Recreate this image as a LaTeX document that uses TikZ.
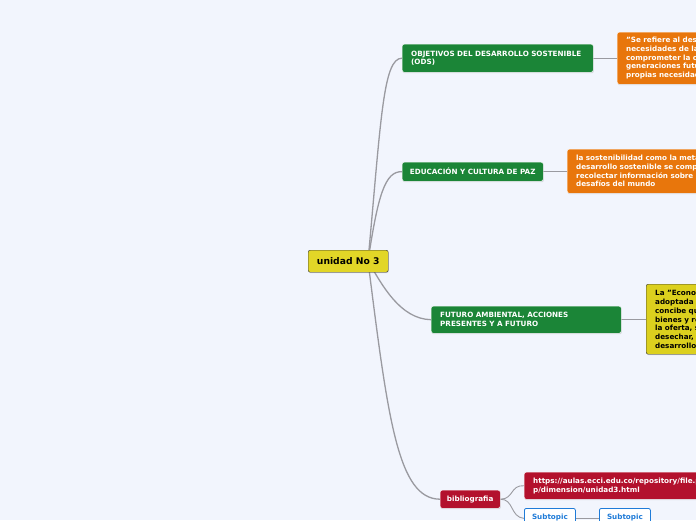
\documentclass[tikz,border=0pt]{standalone}
\usepackage{fontspec}
\setmainfont{DejaVu Sans}
\usetikzlibrary{shadows}
\definecolor{bgc}{HTML}{F2F5FD}
\definecolor{gr}{HTML}{1B8537}
\definecolor{orc}{HTML}{E8760C}
\definecolor{yel}{HTML}{E2D627}
\definecolor{yel2}{HTML}{DCD01E}
\definecolor{redc}{HTML}{B3112D}
\definecolor{bluc}{HTML}{1F7BD8}
\definecolor{linec}{HTML}{9A9AA0}
\pgfdeclarelayer{bg}
\pgfdeclarelayer{back}
\pgfsetlayers{back,bg,main}
\tikzset{
  box/.style={rectangle, rounded corners=2pt, anchor=north west, inner xsep=9pt, inner ysep=0pt,
    font=\fontsize{7.2}{8.7}\selectfont\bfseries, text=white, align=left, draw=white, line width=0.4pt,
    drop shadow={opacity=0.25, shadow xshift=0.6pt, shadow yshift=-1pt}},
  conn/.style={draw=linec, line width=1.3pt},
  subconn/.style={draw=linec, line width=0.9pt},
  subbox/.style={rectangle, rounded corners=2pt, anchor=north west, inner sep=0pt, fill=white, draw=bluc,
    line width=0.8pt, text=bluc, font=\fontsize{7.2}{8.7}\selectfont\bfseries, minimum width=51pt, minimum height=20pt}
}
\begin{document}
\begin{tikzpicture}[x=1pt,y=-1pt]
\useasboundingbox (0,0) rectangle (696,520);
\clip (0,0) rectangle (696,520);
\begin{pgfonlayer}{back}
\fill[bgc] (0,0) rectangle (696,520);
\end{pgfonlayer}

\node[box, fill=yel, draw=black!80, text=black, font=\fontsize{9.2}{11}\selectfont\bfseries, inner xsep=0pt,
  minimum width=80pt, minimum height=22pt, align=center] (root) at (308,250) {unidad No 3};
\coordinate (rc) at (368,261);

\node[box, fill=gr, minimum height=28pt, text width=173pt] (ods) at (402,44)
  {OBJETIVOS DEL DESARROLLO SOSTENIBLE\\(ODS)};
\node[box, fill=orc, minimum height=52pt, text width=200pt] (o1) at (617,32)
  {"Se refiere al desarrollo que satisface las\\necesidades de la generación presente sin\\comprometer la capacidad de las\\generaciones futuras de satisfacer sus\\propias necesidades"};

\node[box, fill=gr, minimum height=19pt, inner xsep=0pt, minimum width=141pt, align=center] (edu) at (402,162)
  {EDUCACIÓN Y CULTURA DE PAZ};
\node[box, fill=orc, minimum height=44pt, text width=200pt] (o2) at (567,149)
  {la sostenibilidad como la meta del\\desarrollo sostenible se compone de\\recolectar información sobre los\\desafíos del mundo};

\node[box, fill=gr, minimum height=27pt, text width=172pt] (fut) at (431,306)
  {FUTURO AMBIENTAL, ACCIONES\\PRESENTES Y A FUTURO};
\node[box, fill=yel2, draw=black!80, text=black, minimum height=70pt, text width=200pt] (y3) at (646,284)
  {La "Economía circular" es la\\adoptada como un modelo que\\concibe que los productos,\\bienes y recursos mantengan\\la oferta, sin necesidad de\\desechar, la cual favorece el\\desarrollo sostenible};

\node[box, fill=redc, minimum height=18pt, inner xsep=0pt, minimum width=60pt, align=center] (bib) at (440,490)
  {bibliografia};
\node[box, fill=redc, minimum height=27pt, text width=220pt] (url) at (524,472)
  {https://aulas.ecci.edu.co/repository/file.ph\\p/dimension/unidad3.html};
\node[subbox] (s1) at (524,508) {\raisebox{4pt}{Subtopic}};
\node[subbox] (s2) at (599,508) {\raisebox{4pt}{Subtopic}};

\begin{pgfonlayer}{bg}
\draw[conn] (rc) .. controls (381,120) and (383,58) .. (ods.west);
\draw[conn] (rc) .. controls (378,195) and (385,171) .. (edu.west);
\draw[conn] (rc) .. controls (382,285) and (400,319) .. (fut.west);
\draw[conn] (rc) .. controls (388,420) and (398,499) .. (bib.west);
\draw[subconn] (ods.east) -- (o1.west |- ods.east);
\draw[subconn] (edu.east) -- (o2.west |- edu.east);
\draw[subconn] (fut.east) -- (y3.west |- fut.east);
\draw[subconn] (bib.east) .. controls (514,499) and (510,485) .. (url.west);
\draw[subconn] (bib.east) .. controls (514,499) and (510,517) .. (s1.west);
\draw[subconn] (s1.east) -- (s2.west);
\end{pgfonlayer}
\end{tikzpicture}
\end{document}
